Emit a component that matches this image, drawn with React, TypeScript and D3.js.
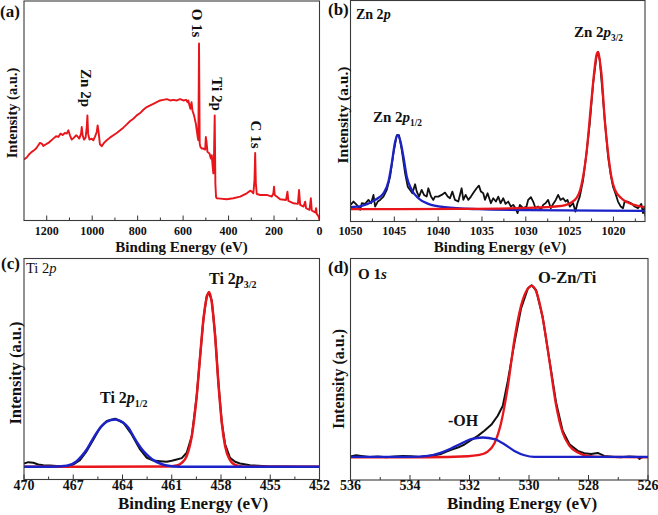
import React from "react"
import * as d3 from "d3"

const FONT = "'Liberation Serif', 'Times New Roman', serif"
const RED = "#e8151b"
const BLUE = "#1b22c6"
const INK = "#111"

// (a) survey spectrum
const surveyEV = [1300,1288,1277,1266,1259,1247,1237,1230,1222,1215,1203,1193,1183,1171,1159,1149,1139,1130,1120,1112,1105,1098,1090,1080,1071,1065,1057,1049,1046,1042,1036,1029,1024,1021,1018,1012,1002,995,988,980,976,971,966,958,948,936,922,907,892,877,863,848,833,819,804,789,775,760,745,731,716,701,687,672,657,643,628,613,599,587,581,577,572,568,563,559,552,544,540,536,533,530,527,524,518,511,503,500,497,493,484,478,474,470,467,464,461,458,455,452,437,408,379,349,320,305,298,291,286,283,280,276,261,232,210,203,200,197,173,147,141,137,114,95,90,85,70,63,59,44,38,34,19,15,12,4,0]
const surveyI = [184,190,200,207,210,217,227,234,232,225,230,234,240,247,254,252,262,258,264,262,272,257,244,250,257,254,247,262,282,257,244,250,282,317,262,244,247,242,252,267,287,262,230,224,234,242,250,257,264,272,280,290,300,307,317,324,334,342,347,352,357,362,364,366,362,364,362,366,362,364,357,362,347,337,357,332,317,292,272,252,242,534,232,222,217,217,214,252,237,207,202,187,197,162,142,202,317,110,70,67,66,64,67,72,82,90,87,82,122,204,112,80,77,77,72,82,102,77,64,62,87,59,52,50,92,47,42,57,37,32,67,30,24,37,20,12,2]
const surveyTicks = [1200, 1000, 800, 600, 400, 200, 0]

// (b) Zn 2p
const znEV = [1050.0,1049.66,1049.28,1048.9,1048.71,1048.33,1047.95,1047.65,1047.38,1047.19,1046.89,1046.62,1046.24,1045.86,1045.48,1045.1,1044.72,1044.46,1044.15,1043.77,1043.47,1043.2,1042.94,1042.63,1042.44,1042.18,1041.88,1041.61,1041.31,1041.12,1040.81,1040.55,1040.36,1039.98,1039.6,1039.22,1038.91,1038.65,1038.38,1038.08,1037.7,1037.32,1037.13,1036.86,1036.56,1036.26,1035.88,1035.61,1035.35,1035.12,1034.85,1034.66,1034.36,1033.98,1033.71,1033.41,1033.14,1032.88,1032.57,1032.31,1032.0,1031.7,1031.44,1031.17,1030.94,1030.68,1030.3,1029.92,1029.73,1029.42,1029.16,1028.89,1028.59,1028.28,1028.02,1027.75,1027.45,1027.15,1026.88,1026.58,1026.31,1026.04,1025.74,1025.47,1025.25,1024.98,1024.6,1024.34,1024.11,1023.84,1023.46,1023.08,1022.7,1022.32,1021.94,1021.75,1021.56,1021.3,1020.99,1020.61,1020.31,1020.05,1019.78,1019.48,1019.17,1018.91,1018.72,1018.41,1018.15,1017.88,1017.58,1017.2,1016.82,1016.63,1016.44,1016.36]
const znRaw = [50,60,50,35,55,53,65,55,80,45,60,65,75,95,135,205,260,260,215,145,105,95,85,112,90,75,95,80,75,100,75,65,75,75,80,87,75,70,90,65,60,100,65,80,65,75,90,100,108,90,85,65,85,55,70,60,75,55,70,53,60,45,50,40,25,50,40,45,65,73,60,40,45,35,50,55,65,40,53,65,80,65,70,60,65,45,55,30,55,75,125,205,295,415,495,510,485,405,305,195,140,105,85,60,45,40,60,60,57,53,45,40,53,25,45,15]
const zn32EV = [1050,1037.3,1029.7,1025.9,1024.4,1023.65,1023.08,1022.51,1022.13,1021.94,1021.75,1021.56,1021.37,1020.99,1020.61,1020.24,1019.86,1019.1,1018.34,1016.44]
const zn32Fit = [37,38,41,47,65,110,205,365,465,500,510,485,445,305,205,135,97,70,57,43]
const zn12EV = [1050,1048.71,1047.19,1046.24,1045.67,1045.29,1044.91,1044.61,1044.34,1043.96,1043.58,1043.01,1042.26,1041.12,1039.22,1035.42,1029.73,1016.36]
const zn12Fit = [43,47,65,85,120,175,240,260,245,195,135,95,70,53,43,37,34,32]
const znTicks = [1050, 1045, 1040, 1035, 1030, 1025, 1020]

// (c) Ti 2p
const tiEV = [470,469.74,469.43,469.13,468.82,468.42,467.81,467.4,466.99,466.59,466.18,465.77,465.37,464.96,464.45,463.95,463.44,462.93,462.52,462.12,461.71,461.31,461.0,460.7,460.39,460.09,459.78,459.48,459.27,459.07,458.87,458.73,458.56,458.36,458.16,457.95,457.75,457.45,457.14,456.84,456.23,455.21,454.2,453.18,452]
const tiRaw = [48,52,50,45,43,42,40,40,45,58,85,120,155,175,182,170,135,90,65,57,55,53,56,60,64,80,130,250,370,480,550,560,535,435,290,170,105,65,53,48,43,40,39,38,38]
const ti32EV = [470,461.31,460.7,460.39,460.09,459.78,459.48,459.27,459.07,458.87,458.73,458.56,458.36,458.16,457.95,457.75,457.45,457.14,456.84,456.43,452]
const ti32Fit = [38,39,42,50,70,130,250,370,480,545,562,530,430,290,170,100,58,44,40,38,38]
const ti12EV = [470,468.42,467.4,466.79,466.49,466.18,465.88,465.57,465.27,464.96,464.45,463.95,463.64,463.34,463.03,462.73,462.42,462.12,461.71,461.31,460.49,452]
const ti12Fit = [38,38,41,55,70,90,115,140,160,173,180,170,155,130,105,85,70,58,48,42,38,38]
const tiTicks = [470, 467, 464, 461, 458, 455, 452]

// (d) O 1s
const oEV = [536,535.81,535.64,535.36,535.08,534.8,534.52,534.24,533.96,533.68,533.4,533.18,532.95,532.79,532.62,532.39,532.17,531.95,531.72,531.5,531.27,531.05,530.88,530.71,530.49,530.27,530.04,529.91,529.76,529.54,529.31,529.09,528.87,528.64,528.36,528.14,527.91,527.69,527.47,527.13,526.91,526.63,526.35,526.29,526.18,526]
const oRaw = [70,74,72,69,70,68,70,72,71,69,72,74,78,84,90,97,106,119,132,147,165,192,222,297,410,512,572,582,567,487,357,232,147,107,87,80,78,81,72,69,68,70,69,63,69,69]
const oLatticeEV = [536,533.4,532.06,531.72,531.39,531.16,530.94,530.71,530.49,530.27,530.04,529.91,529.76,529.54,529.31,529.09,528.87,528.64,528.36,528.03,527.58,526]
const oLatticeFit = [68,68,71,74,85,110,170,280,420,520,572,580,564,484,354,224,142,102,82,72,69,68]
const oHydroxylEV = [536,533.96,533.4,532.95,532.62,532.28,531.95,531.55,531.16,530.83,530.49,530.15,529.82,526]
const oHydroxylFit = [69,69,72,82,94,109,122,127,122,107,87,74,69,69]
const oTicks = [536, 534, 532, 530, 528, 526]

type Series = { ev: number[]; val: number[]; color: string; width: number; smooth?: boolean }
type Box = { x0: number; x1: number; y0: number; y1: number }

function Panel(props: {
  id: string
  box: Box
  xDomain: [number, number]
  yMax: number
  ticks: number[]
  series: Series[]
  tickSize: number
  tickBase: number
  title: { x: number; y: number; size: number }
  yTitle: { x: number; y: number; size: number }
}) {
  const { id, box, xDomain, yMax, ticks, series } = props
  const x = d3.scaleLinear().domain(xDomain).range([box.x0, box.x1])
  const y = d3.scaleLinear().domain([0, yMax]).range([box.y1, box.y0])
  const lo = Math.min(xDomain[0], xDomain[1])
  const hi = Math.max(xDomain[0], xDomain[1])
  const half = Math.abs(ticks[1] - ticks[0]) / 2
  const minors = Array.from(new Set(ticks.flatMap(t => [t - half, t + half])))
    .filter(v => v > lo && v < hi && !ticks.includes(v))

  return (
    <g>
      <defs>
        <clipPath id={`clip-${id}`}>
          <rect x={box.x0} y={box.y0} width={box.x1 - box.x0} height={box.y1 - box.y0} />
        </clipPath>
      </defs>
      <g clipPath={`url(#clip-${id})`}>
        {series.map((s, k) => {
          const line = d3
            .line<number>()
            .x((_, i) => x(s.ev[i]))
            .y(d => y(d))
            .curve(s.smooth ? d3.curveMonotoneX : d3.curveLinear)
          return (
            <path key={k} d={line(s.val) || ""} fill="none" stroke={s.color}
              strokeWidth={s.width} strokeLinejoin="round" />
          )
        })}
      </g>
      {ticks.map(t => (
        <line key={`M${t}`} x1={x(t)} x2={x(t)} y1={box.y1} y2={box.y1 - 5} stroke="#333" strokeWidth={1} />
      ))}
      {minors.map(t => (
        <line key={`m${t}`} x1={x(t)} x2={x(t)} y1={box.y1} y2={box.y1 - 3} stroke="#333" strokeWidth={1} />
      ))}
      <rect x={box.x0} y={box.y0} width={box.x1 - box.x0} height={box.y1 - box.y0}
        fill="none" stroke="#3a3a3a" strokeWidth={1.1} />
      {ticks.map(t => (
        <text key={`L${t}`} x={x(t)} y={props.tickBase} textAnchor="middle"
          fontSize={props.tickSize} fontWeight="bold">{t}</text>
      ))}
      <text x={props.title.x} y={props.title.y} textAnchor="middle"
        fontSize={props.title.size} fontWeight="bold">Binding Energy (eV)</text>
      <text transform={`translate(${props.yTitle.x},${props.yTitle.y}) rotate(-90)`}
        textAnchor="middle" dominantBaseline="central"
        fontSize={props.yTitle.size} fontWeight="bold">Intensity (a.u.)</text>
    </g>
  )
}

function Peak(props: { x: number; y: number; size: number; head: string; orb: string; sub?: string; weight?: string }) {
  return (
    <text x={props.x} y={props.y} fontSize={props.size} fontWeight={props.weight || "bold"}>
      {props.head}
      <tspan fontStyle="italic">{props.orb}</tspan>
      {props.sub ? <tspan fontSize={props.size * 0.62} dy={props.size * 0.28}>{props.sub}</tspan> : null}
    </text>
  )
}

export default function App() {
  const surveyLabels: [string, number, number][] = [
    ["Zn 2p", 85.5, 88],
    ["O 1s", 197, 23],
    ["Ti 2p", 217, 94],
    ["C 1s", 256, 134.5],
  ]
  return (
    <svg width={658} height={515} viewBox="0 0 658 515"
      style={{ position: "absolute", left: 0, top: 0, background: "#fff" }}
      fontFamily={FONT} fill={INK}>
      <Panel id="a" box={{ x0: 24, x1: 319.5, y0: 1, y1: 220.5 }} xDomain={[1300, 0]} yMax={662}
        ticks={surveyTicks} tickSize={12} tickBase={234.5}
        title={{ x: 181.5, y: 252, size: 15 }} yTitle={{ x: 12, y: 113, size: 14.5 }}
        series={[{ ev: surveyEV, val: surveyI, color: RED, width: 1.9 }]} />
      {surveyLabels.map(([t, lx, ly]) => (
        <text key={t} transform={`translate(${lx},${ly}) rotate(90)`} textAnchor="middle"
          dominantBaseline="central" fontSize={15} fontWeight="bold">{t}</text>
      ))}

      <Panel id="b" box={{ x0: 350.5, x1: 645, y0: 0.5, y1: 221.5 }} xDomain={[1050, 1016.4]} yMax={665}
        ticks={znTicks} tickSize={12} tickBase={234.5}
        title={{ x: 500, y: 252, size: 15 }} yTitle={{ x: 342, y: 115, size: 15.5 }}
        series={[
          { ev: znEV, val: znRaw, color: INK, width: 1.8 },
          { ev: zn12EV, val: zn12Fit, color: BLUE, width: 2.3, smooth: true },
          { ev: zn32EV, val: zn32Fit, color: RED, width: 2.3, smooth: true },
        ]} />
      <Peak x={356} y={19} size={14} head="Zn 2" orb="p" />
      <Peak x={574} y={37} size={15} head="Zn 2" orb="p" sub="3/2" />
      <Peak x={373} y={122} size={15} head="Zn 2" orb="p" sub="1/2" />

      <Panel id="c" box={{ x0: 24, x1: 319.5, y0: 258.5, y1: 479.5 }} xDomain={[470, 452]} yMax={662}
        ticks={tiTicks} tickSize={14} tickBase={490}
        title={{ x: 193, y: 509, size: 17 }} yTitle={{ x: 15, y: 373, size: 16.5 }}
        series={[
          { ev: tiEV, val: tiRaw, color: INK, width: 2 },
          { ev: ti32EV, val: ti32Fit, color: RED, width: 2.5, smooth: true },
          { ev: ti12EV, val: ti12Fit, color: BLUE, width: 2.5, smooth: true },
        ]} />
      <Peak x={26} y={273} size={14.5} head="Ti 2" orb="p" weight="normal" />
      <Peak x={209} y={284} size={16} head="Ti 2" orb="p" sub="3/2" />
      <Peak x={100} y={403} size={16} head="Ti 2" orb="p" sub="1/2" />

      <Panel id="d" box={{ x0: 350.5, x1: 648, y0: 258.5, y1: 480 }} xDomain={[536, 526]} yMax={662}
        ticks={oTicks} tickSize={14} tickBase={490}
        title={{ x: 522, y: 509, size: 17 }} yTitle={{ x: 338, y: 379, size: 16 }}
        series={[
          { ev: oEV, val: oRaw, color: INK, width: 2 },
          { ev: oLatticeEV, val: oLatticeFit, color: RED, width: 2.3, smooth: true },
          { ev: oHydroxylEV, val: oHydroxylFit, color: BLUE, width: 2.3, smooth: true },
        ]} />
      <Peak x={358} y={279} size={15} head="O 1" orb="s" />
      <text x={538} y={283} fontSize={16.5} fontWeight="bold">O-Zn/Ti</text>
      <text x={448} y={426} fontSize={16} fontWeight="bold">-OH</text>

      <text x={0} y={17} fontSize={17} fontWeight="bold">(a)</text>
      <text x={328} y={15} fontSize={17} fontWeight="bold">(b)</text>
      <text x={1} y={269} fontSize={17} fontWeight="bold">(c)</text>
      <text x={328} y={273} fontSize={17} fontWeight="bold">(d)</text>
    </svg>
  )
}
